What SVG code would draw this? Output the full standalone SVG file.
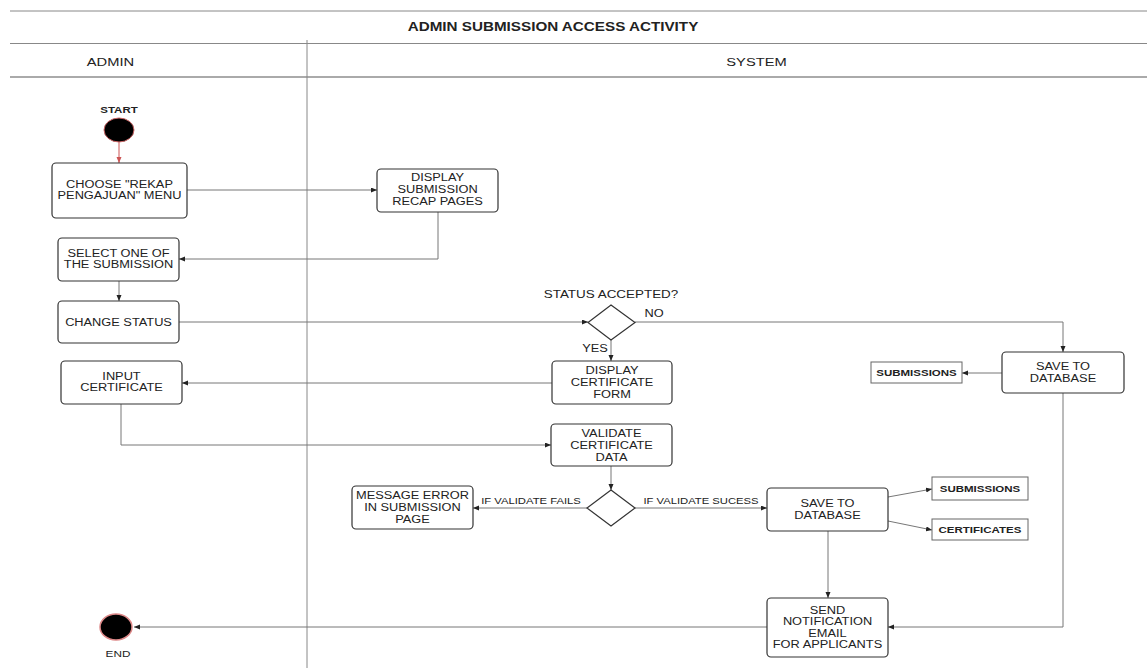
<svg xmlns="http://www.w3.org/2000/svg" width="1147" height="668" viewBox="0 0 1147 668">
<style>
text{font-family:"Liberation Sans",Arial,sans-serif;fill:#222;text-anchor:middle}
.t{font-size:10px}
.b{font-size:9px;font-weight:bold}
.lab{font-size:8.8px}
.node{fill:#fff;stroke:#333;stroke-width:1.2}
.store{fill:#fff;stroke:#666;stroke-width:1}
.c{fill:none;stroke:#777;stroke-width:1;marker-end:url(#ah)}
.hl{stroke:#888;stroke-width:1}
</style>
<defs>
<marker id="ah" markerUnits="userSpaceOnUse" markerWidth="7" markerHeight="6" refX="6" refY="2.5" orient="auto">
<path d="M0,0 L6,2.5 L0,5 z" fill="#222"/>
</marker>
<marker id="ahr" markerUnits="userSpaceOnUse" markerWidth="7" markerHeight="6" refX="6" refY="2.5" orient="auto">
<path d="M0,0 L6,2.5 L0,5 z" fill="#c55"/>
</marker>
</defs>
<rect width="1147" height="668" fill="#fff"/>
<g id="lanes">
<line class="hl" x1="10" y1="11" x2="1147" y2="11"/>
<line class="hl" x1="10" y1="43.5" x2="1147" y2="43.5"/>
<line x1="10" y1="77" x2="1147" y2="77" stroke="#aaa" stroke-width="2"/>
<line x1="307" y1="40" x2="307" y2="668" stroke="#888" stroke-width="1"/>
<text transform="translate(553,31.2) scale(1.28 1)" style="font-size:11.9px;font-weight:bold">ADMIN SUBMISSION ACCESS ACTIVITY</text>
<text transform="translate(110.5,66) scale(1.28 1)" style="font-size:11.5px">ADMIN</text>
<text transform="translate(756.5,66) scale(1.28 1)" style="font-size:11.5px">SYSTEM</text>
</g>
<g id="connectors">
<line x1="119" y1="142" x2="119" y2="163" stroke="#c55" stroke-width="1" marker-end="url(#ahr)"/>
<path class="c" d="M187,190 L377,190"/>
<path class="c" d="M438,212 L438,259 L179,259"/>
<path class="c" d="M119,281 L119,301"/>
<path class="c" d="M179,322 L588,322"/>
<path class="c" d="M635,322 L1063,322 L1063,352"/>
<path class="c" d="M611,340 L611,361"/>
<path class="c" d="M552,383 L182,383"/>
<path class="c" d="M1002,373 L962,373"/>
<path class="c" d="M121,404 L121,445 L551,445"/>
<path class="c" d="M611,466 L611,490"/>
<path class="c" d="M587,508 L473,508"/>
<path class="c" d="M635,508 L767,508"/>
<path class="c" d="M888,497 L932,489"/>
<path class="c" d="M888,521 L932,530"/>
<path class="c" d="M828,531 L828,598"/>
<path class="c" d="M1063,393 L1063,627 L888,627"/>
<path class="c" d="M767,627 L134,627"/>
<text class="t" transform="translate(595,351.6) scale(1.28 1)">YES</text>
<text class="t" transform="translate(654,316.6) scale(1.28 1)">NO</text>
<text class="lab" transform="translate(531,504) scale(1.28 1)">IF VALIDATE FAILS</text>
<text class="lab" transform="translate(701,504) scale(1.28 1)">IF VALIDATE SUCESS</text>
</g>
<g id="start">
<ellipse cx="119" cy="130" rx="15" ry="12" fill="#000" stroke="#c66" stroke-width="1"/>
<text class="b" transform="translate(119,113.2) scale(1.28 1)">START</text>
</g>
<g id="choose-menu">
<rect class="node" x="52" y="163" width="135" height="55" rx="4"/>
<text class="t" transform="translate(119.5,188) scale(1.28 1)"><tspan x="0">CHOOSE "REKAP</tspan><tspan x="0" dy="11.5">PENGAJUAN" MENU</tspan></text>
</g>
<g id="display-recap">
<rect class="node" x="377" y="169" width="121" height="43" rx="4"/>
<text class="t" transform="translate(437.5,181.1) scale(1.28 1)"><tspan x="0">DISPLAY</tspan><tspan x="0" dy="12">SUBMISSION</tspan><tspan x="0" dy="12">RECAP PAGES</tspan></text>
</g>
<g id="select-submission">
<rect class="node" x="58" y="238" width="121" height="43" rx="4"/>
<text class="t" transform="translate(118.5,257) scale(1.28 1)"><tspan x="0">SELECT ONE OF</tspan><tspan x="0" dy="11.5">THE SUBMISSION</tspan></text>
</g>
<g id="change-status">
<rect class="node" x="58" y="301" width="121" height="42" rx="4"/>
<text class="t" transform="translate(118.5,325.6) scale(1.28 1)">CHANGE STATUS</text>
</g>
<g id="input-certificate">
<rect class="node" x="61" y="361" width="121" height="43" rx="4"/>
<text class="t" transform="translate(121.5,380) scale(1.28 1)"><tspan x="0">INPUT</tspan><tspan x="0" dy="11.5">CERTIFICATE</tspan></text>
</g>
<g id="status-accepted">
<polygon class="node" points="611,305 635,322.5 611,340 588,322.5"/>
<text transform="translate(611,297.8) scale(1.28 1)" style="font-size:10.5px">STATUS ACCEPTED?</text>
</g>
<g id="display-certificate-form">
<rect class="node" x="552" y="361" width="120" height="43" rx="4"/>
<text class="t" transform="translate(612,374) scale(1.28 1)"><tspan x="0">DISPLAY</tspan><tspan x="0" dy="12">CERTIFICATE</tspan><tspan x="0" dy="12">FORM</tspan></text>
</g>
<g id="save-database-1">
<rect class="node" x="1002" y="352" width="122" height="41" rx="4"/>
<text class="t" transform="translate(1063,370) scale(1.28 1)"><tspan x="0">SAVE TO</tspan><tspan x="0" dy="12">DATABASE</tspan></text>
</g>
<g id="submissions-1">
<rect class="store" x="871" y="362" width="91" height="21"/>
<text class="b" transform="translate(916.5,375.7) scale(1.28 1)">SUBMISSIONS</text>
</g>
<g id="validate-certificate">
<rect class="node" x="551" y="424" width="121" height="42" rx="4"/>
<text class="t" transform="translate(611.5,436.6) scale(1.28 1)"><tspan x="0">VALIDATE</tspan><tspan x="0" dy="12">CERTIFICATE</tspan><tspan x="0" dy="12">DATA</tspan></text>
</g>
<g id="validate-decision">
<polygon class="node" points="611,490 635,508 611,526 587,508"/>
</g>
<g id="message-error">
<rect class="node" x="352" y="486" width="121" height="43" rx="4"/>
<text class="t" transform="translate(412.5,499) scale(1.28 1)"><tspan x="0">MESSAGE ERROR</tspan><tspan x="0" dy="12">IN SUBMISSION</tspan><tspan x="0" dy="12">PAGE</tspan></text>
</g>
<g id="save-database-2">
<rect class="node" x="767" y="488" width="121" height="43" rx="4"/>
<text class="t" transform="translate(827.5,507) scale(1.28 1)"><tspan x="0">SAVE TO</tspan><tspan x="0" dy="12">DATABASE</tspan></text>
</g>
<g id="submissions-2">
<rect class="store" x="932" y="477" width="96" height="23"/>
<text class="b" transform="translate(980,491.7) scale(1.28 1)">SUBMISSIONS</text>
</g>
<g id="certificates">
<rect class="store" x="932" y="519" width="96" height="21"/>
<text class="b" transform="translate(980,532.7) scale(1.28 1)">CERTIFICATES</text>
</g>
<g id="send-notification">
<rect class="node" x="767" y="598" width="121" height="59" rx="4"/>
<text class="t" transform="translate(827.5,613.9) scale(1.28 1)"><tspan x="0">SEND</tspan><tspan x="0" dy="11.5">NOTIFICATION</tspan><tspan x="0" dy="11.5">EMAIL</tspan><tspan x="0" dy="11.5">FOR APPLICANTS</tspan></text>
</g>
<g id="end">
<ellipse cx="116" cy="627" rx="16" ry="13" fill="#000" stroke="#d88" stroke-width="1.5"/>
<text class="t" transform="translate(118,657.3) scale(1.28 1)" style="font-size:9.2px">END</text>
</g>
</svg>
